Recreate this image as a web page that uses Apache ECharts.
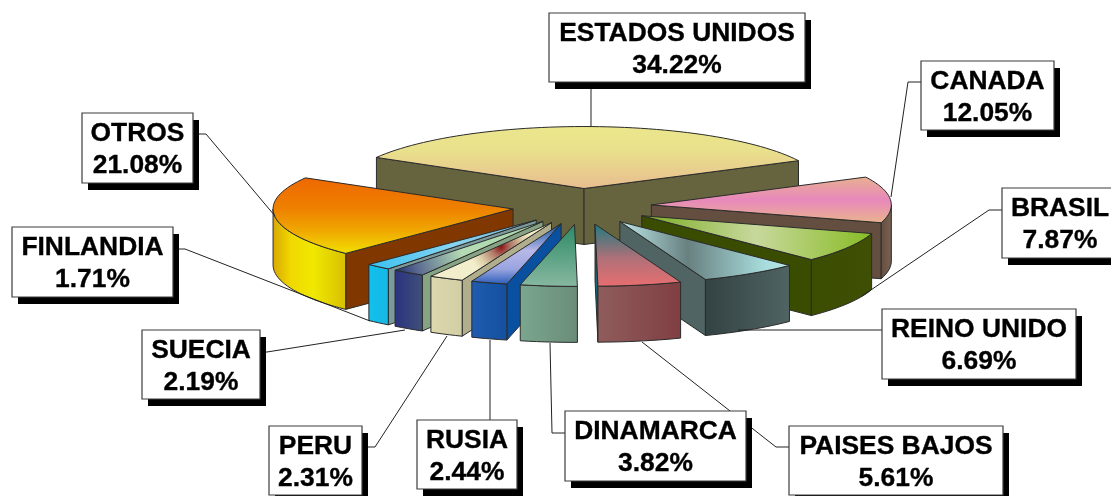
<!DOCTYPE html>
<html>
<head>
<meta charset="utf-8">
<style>html,body{margin:0;padding:0;background:#fff}#c{width:1111px;height:496px}</style>
<script src="https://cdn.jsdelivr.net/npm/echarts@6/dist/echarts.min.js"></script>
</head>
<body>
<div id="c"></div>
<script>
var categories = ['ESTADOS UNIDOS','CANADA','BRASIL','REINO UNIDO','PAISES BAJOS','DINAMARCA','RUSIA','PERU','SUECIA','FINLANDIA','OTROS'];
var shares = [34.22,12.05,7.87,6.69,5.61,3.82,2.44,2.31,2.19,1.71,21.08];

// ---- projection of the pie ----
var START_DEG = -59.9, CX = 582, CY = 206.5, RX = 240, RY = 62, DEPTH = 56, EXPLODE = 0.29;
var FONT = 'bold 26.4px "Liberation Sans", Arial, sans-serif';
var EDGE = '#2b2b2b';

function lin(x, y, x2, y2, stops) {
  return {type:'linear', x:x, y:y, x2:x2, y2:y2, colorStops:stops.map(function(s){return {offset:s[0], color:s[1]};})};
}
function rad(x, y, r, stops) {
  return {type:'radial', x:x, y:y, r:r, colorStops:stops.map(function(s){return {offset:s[0], color:s[1]};})};
}

// slice appearance, in category order
var sliceStyles = [
  {top:lin(0,0,0,1,[[0,'#ebe78c'],[0.4,'#e9e08c'],[1,'#e8bc90']]), side:'#65643f', front:'#65643f'},
  {top:lin(0,0,0,1,[[0,'#e8b090'],[0.5,'#e888bc'],[1,'#e8b48c']]), side:'#644e40', front:lin(0,0,1,0,[[0,'#644e40'],[1,'#7a6252']])},
  {top:lin(0,0,1,0.25,[[0,'#7aab22'],[0.5,'#c8d89c'],[1,'#88bc26']]), side:'#3a4c00', front:lin(0,0,1,0,[[0,'#3b4d00'],[1,'#3f5005']])},
  {top:lin(0,0,1,0,[[0,'#bde8e8'],[0.4,'#688080'],[0.85,'#a8dcdc'],[1,'#b8e6e6']]), side:'#506464', front:lin(0,0,1,0,[[0,'#334242'],[1,'#506464']])},
  {top:lin(0,0,0,1,[[0,'#1f7a80'],[0.55,'#b07078'],[1,'#e86e70']]), side:'#16686e', front:lin(0,0,1,0,[[0,'#8f5c5c'],[1,'#803f42']])},
  {top:lin(0,0,0,1,[[0,'#2c8a66'],[1,'#88b8a0']]), side:'#6a8c78', front:lin(0,0,1,0,[[0,'#7aa68e'],[1,'#6a8c78']])},
  {top:lin(0,0,0,1,[[0,'#0a50a0'],[0.45,'#b8b8e8'],[0.75,'#98a4e0'],[1,'#2a5cb8']]), side:'#0a50a0', front:lin(0,0,1,0,[[0,'#1f5cb0'],[1,'#14509e']])},
  {top:rad(0.58,0.42,0.55,[[0,'#8a1414'],[0.3,'#b07868'],[0.7,'#dccfa8'],[1,'#f2eecc']]), side:'#b0ae8c', front:lin(0,0,1,0,[[0,'#ddd8ae'],[1,'#d2cea4']])},
  {top:lin(1,0,0,1,[[0,'#a8d4a8'],[0.55,'#b4dcb4'],[0.85,'#5a6a90'],[1,'#1c2c70']]), side:'#86a484', front:lin(0,0,1,0,[[0,'#2a3280'],[1,'#405078']])},
  {top:lin(1,0,0,1,[[0,'#78b0cc'],[0.5,'#88d4f0'],[1,'#38c0f0']]), side:'#7a9a9c', front:lin(0,0,1,0,[[0,'#12c0ee'],[1,'#16b8e4']])},
  {top:lin(0,0,0,1,[[0,'#ee6800'],[0.4,'#ee8000'],[0.7,'#f0a800'],[1,'#f0e000']]), side:'#803800', front:lin(0,0,1,0,[[0,'#d8a800'],[0.25,'#f0d800'],[0.55,'#f0e800'],[1,'#d8c000']])}
];

// label boxes and leader lines, in category order (page pixels)
var labelBoxes = [
  {x:549,y:13,w:256,h:69, leader:[[591,82],[591,127]]},
  {x:921,y:61,w:133,h:69, leader:[[921,82],[908,82],[891,197]]},
  {x:1002,y:188,w:116,h:70, textX:1060, leader:[[1002,210],[989,210],[862,296]]},
  {x:882,y:309,w:194,h:70, leader:[[882,330],[738,330]]},
  {x:789,y:426,w:214,h:69, leader:[[789,447],[776,447],[642,342]]},
  {x:565,y:411,w:181,h:70, leader:[[565,433],[552,433],[550,343]]},
  {x:417,y:420,w:100,h:69, leader:[[490,420],[490,340]]},
  {x:269,y:426,w:93,h:69, leader:[[362,447],[375,447],[447,336]]},
  {x:142,y:330,w:118,h:69, leader:[[260,352],[267,352],[405,330]]},
  {x:12,y:227,w:161,h:70, leader:[[173,249],[185,249],[370,321]]},
  {x:82,y:113,w:111,h:70, leader:[[193,134],[206,134],[275,216]]}
];

var total = shares.reduce(function(a,b){return a+b;},0);
var acc = 0;
var spans = shares.map(function(v){
  var a = START_DEG + acc/total*360;
  acc += v;
  return [a, START_DEG + acc/total*360];
});
// back slices painted first
var order = categories.map(function(_,i){return i;}).sort(function(a,b){
  var ma=(spans[a][0]+spans[a][1])/2*Math.PI/180, mb=(spans[b][0]+spans[b][1])/2*Math.PI/180;
  return Math.cos(mb)-Math.cos(ma);
});

function renderSlice(params, api){
  var i = api.value(0), share = api.value(1);
  var a0 = spans[i][0], a1 = a0 + share/total*360;
  var st = sliceStyles[i];
  var d = Math.PI/180, mid = (a0+a1)/2*d;
  var ax = CX + EXPLODE*RX*Math.sin(mid), ay = CY - EXPLODE*RY*Math.cos(mid);
  function rim(deg, dz){ return [ax + RX*Math.sin(deg*d), ay - RY*Math.cos(deg*d) + (dz||0)]; }
  function arc(from, to, dz){
    var pts=[], n=Math.max(2,Math.ceil((to-from)/2));
    for(var k=0;k<=n;k++) pts.push(rim(from+(to-from)*k/n, dz));
    return pts;
  }
  var kids=[];
  function poly(points, fill){
    kids.push({type:'polygon', shape:{points:points}, style:{fill:fill, stroke:EDGE, lineWidth:1, lineJoin:'round'}});
  }
  function radial(deg){
    var e=rim(deg), b=rim(deg,DEPTH);
    poly([[ax,ay],e,b,[ax,ay+DEPTH]], st.side);
  }
  // radial walls that turn toward the viewer
  if (Math.sin(a0*d) < 0) radial(a0);
  if (Math.sin(a1*d) > 0) radial(a1);
  // curved outer wall (front half of the ellipse only)
  [0,360].forEach(function(shift){
    var f=Math.max(a0+shift,90), t=Math.min(a1+shift,270);
    if (t>f) poly(arc(f,t,0).concat(arc(f,t,DEPTH).reverse()), st.front);
  });
  // top face
  poly([[ax,ay]].concat(arc(a0,a1,0)), st.top);
  return {type:'group', children:kids};
}

function renderLeader(params, api){
  var b = labelBoxes[api.value(0)];
  return {type:'polyline', shape:{points:b.leader}, style:{fill:null, stroke:'#222', lineWidth:1}};
}

function renderBox(params, api){
  var i = api.value(0), b = labelBoxes[i];
  var tx = b.textX || b.x + b.w/2;
  var ink = {font:FONT, fill:'#000', stroke:'#000', lineWidth:0.35, align:'center', verticalAlign:'middle'};
  return {type:'group', children:[
    {type:'rect', shape:{x:b.x+6,y:b.y+7,width:b.w,height:b.h}, style:{fill:'#000'}},
    {type:'rect', shape:{x:b.x,y:b.y,width:b.w,height:b.h}, style:{fill:'#fff', stroke:'#3c3c3c', lineWidth:1.2}},
    {type:'text', style:Object.assign({x:tx, y:b.y+21, text:categories[i]}, ink)},
    {type:'text', style:Object.assign({x:tx, y:b.y+53, text:api.value(1).toFixed(2)+'%'}, ink)}
  ]};
}

var chart = echarts.init(document.getElementById('c'), null, {renderer:'canvas'});
var rows = categories.map(function(_,i){return [i, shares[i]];});
chart.setOption({
  backgroundColor:'#ffffff',
  animation:false,
  series:[
    {type:'custom', coordinateSystem:'none', renderItem:renderSlice, z:1, silent:true,
     data:order.map(function(i){return rows[i];})},
    {type:'custom', coordinateSystem:'none', renderItem:renderLeader, z:2, silent:true, data:rows},
    {type:'custom', coordinateSystem:'none', renderItem:renderBox, z:3, silent:true, data:rows}
  ]
});
</script>
</body>
</html>
